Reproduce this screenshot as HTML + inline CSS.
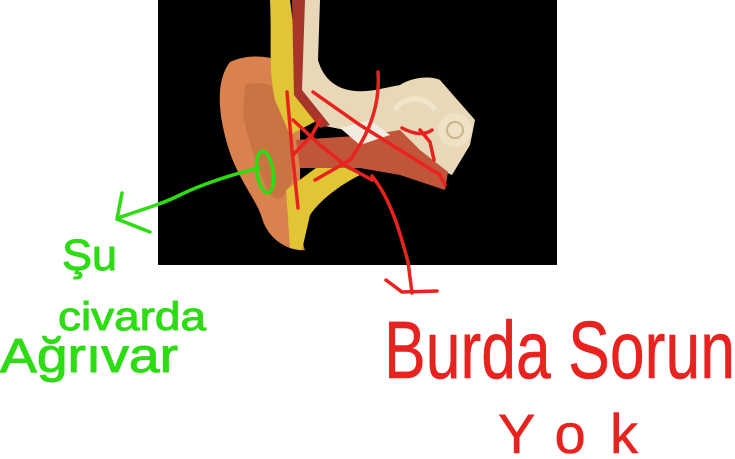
<!DOCTYPE html>
<html><head><meta charset="utf-8"><style>
html,body{margin:0;padding:0;background:#fff;}
svg{display:block}
text{font-family:"Liberation Sans",sans-serif;}
</style></head><body>
<svg width="735" height="459" viewBox="0 0 735 459" xmlns="http://www.w3.org/2000/svg">
<rect x="158" y="0" width="399" height="265" fill="#000"/>
<!-- pinna -->
<path d="M230,62 C250,52 285,55 300,75 L300,140 L300,190 C305,215 300,240 305,250 C290,252 268,240 262,218 C256,198 236,178 226,140 C218,110 216,80 230,62 Z" fill="#d9824e"/>
<path d="M245,85 C260,80 280,85 290,100 L292,180 C285,200 275,205 268,190 C258,170 248,140 243,115 Z" fill="#c06a3c" opacity="0.6"/>
<!-- yellow fat -->
<path d="M270,0 L290,0 L300,80 L318,120 L290,135 L275,100 C268,70 272,40 270,0 Z" fill="#e2c534"/>
<path d="M286,190 L320,165 L340,165 L360,175 C340,185 320,200 310,215 L302,250 L290,248 Z" fill="#e2c534"/>
<!-- bone -->
<path d="M300,0 L320,0 L318,60 C325,85 345,95 375,90 L400,85 C410,78 430,75 440,80 L475,120 L470,145 L452,175 L420,160 L380,140 L345,130 L320,125 L300,95 Z" fill="#e8d8b8"/>
<path d="M292,0 L305,0 L302,90 L330,125 L320,128 L294,95 Z" fill="#a8352a"/>
<!-- canal -->
<path d="M296,140 L370,135 L400,130 L420,150 L448,172 L445,190 L400,175 L360,168 L300,168 Z" fill="#c0553a"/>
<path d="M340,128 L370,120 L390,135 L360,145 Z" fill="#f2ece0"/>
<circle cx="455" cy="130" r="17" fill="#efe2c4"/>
<circle cx="455" cy="130" r="8" fill="none" stroke="#c9b48c" stroke-width="2"/>
<path d="M395,110 C405,95 425,95 435,110" fill="none" stroke="#f0e6cc" stroke-width="5"/>
<!-- red scribbles -->
<g fill="none" stroke="#e8231f" stroke-width="3.5" stroke-linecap="round">
<path d="M287,92 L292,150 L298,208"/>
<path d="M293,120 L320,145 L345,165 L372,180"/>
<path d="M293,155 L312,135 L320,120"/>
<path d="M313,92 L360,125 L400,150 L440,175 L445,185"/>
<path d="M378,72 C380,100 372,130 350,160 L315,180"/>
<path d="M402,128 C415,135 425,135 432,130"/>
<path d="M420,130 L430,142 L434,160"/>
<path d="M372,176 C392,200 402,240 408,262 L412,293"/>
<path d="M386,280 L402,292 L437,291"/>
</g>
<!-- green -->
<g fill="none" stroke="#2edc14" stroke-width="3.5" stroke-linecap="round">
<ellipse cx="265" cy="172" rx="8" ry="21" transform="rotate(-8 265 172)"/>
<path d="M259,168 C230,175 200,185 180,195 C160,205 140,210 118,218"/>
<path d="M122,193 L117,219 L150,232"/>
</g>
<text x="62" y="270" font-size="44" fill="#2edc14" stroke="#2edc14" stroke-width="1" textLength="55" lengthAdjust="spacingAndGlyphs">Şu</text>
<text x="58" y="330" font-size="40" fill="#2edc14" stroke="#2edc14" stroke-width="1" textLength="148" lengthAdjust="spacingAndGlyphs">civarda</text>
<text x="0" y="372" font-size="48" fill="#2edc14" stroke="#2edc14" stroke-width="1" textLength="178" lengthAdjust="spacingAndGlyphs">Ağrıvar</text>
<text x="384" y="378" font-size="82" fill="#e8231f" stroke="#e8231f" stroke-width="0.5" textLength="351" lengthAdjust="spacingAndGlyphs">Burda Sorun</text>
<text x="498" y="453" font-size="56" fill="#e8231f" stroke="#e8231f" stroke-width="0.5" textLength="140" lengthAdjust="spacing">Yok</text>
</svg>
</body></html>
